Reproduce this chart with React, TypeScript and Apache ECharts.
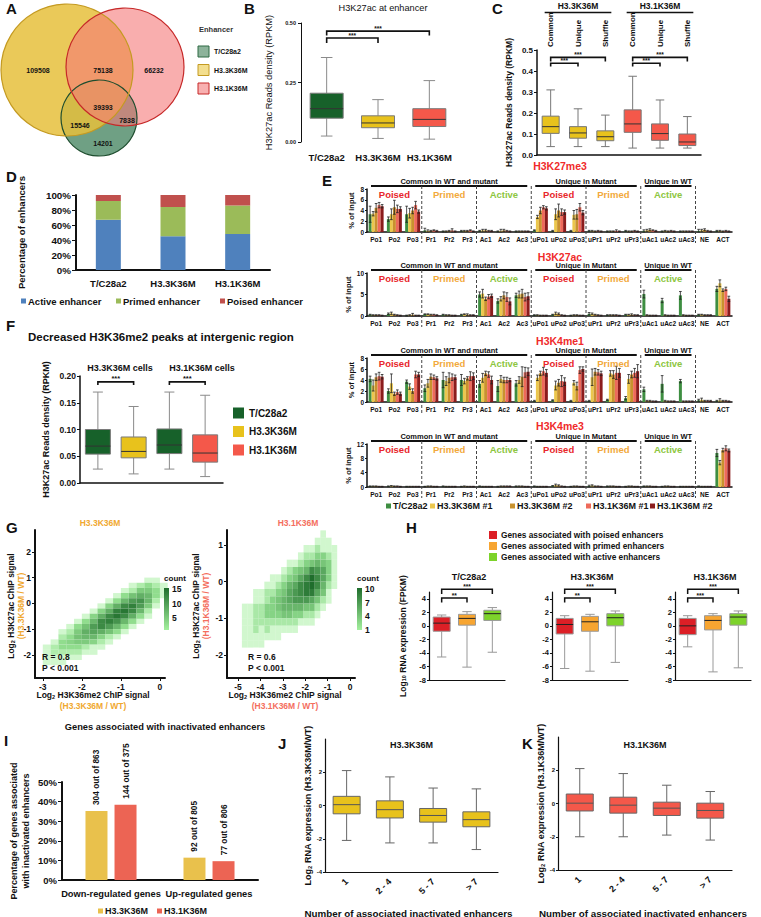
import React, { useEffect, useRef } from "react";
import * as echarts from "echarts";

const FONT = "'Liberation Sans', Arial, Helvetica, sans-serif";
const W = 761;
const H = 917;

/* ---------------- A: Venn ---------------- */
const vennLegend = ["T/C28a2", "H3.3K36M", "H3.1K36M"];
const vennRegionValues = [109508, 75138, 66232, 39393, 15546, 7838, 14201];

/* ---------------- B ---------------- */
const bCategories = ["T/C28a2", "H3.3K36M", "H3.1K36M"];
const bBoxes = [
  [0.025, 0.1, 0.14, 0.205, 0.355],
  [0.015, 0.06, 0.08, 0.11, 0.178],
  [0.012, 0.065, 0.095, 0.14, 0.258],
];
const bBrackets = [
  [0, 1, 0.437, 0.416],
  [0, 2, 0.466, 0.448],
];
const bSignif = ["***", "***"];

/* ---------------- C ---------------- */
const cGroups = ["H3.3K36M", "H3.1K36M"];
const cCategories = ["Common", "Unique", "Shuffle", "Common ", "Unique ", "Shuffle "];
const cBoxes = [
  [0.04, 0.103, 0.135, 0.185, 0.31],
  [0.04, 0.08, 0.105, 0.135, 0.22],
  [0.04, 0.068, 0.087, 0.115, 0.19],
  [0.033, 0.108, 0.148, 0.215, 0.375],
  [0.033, 0.07, 0.102, 0.148, 0.262],
  [0.033, 0.045, 0.062, 0.1, 0.183],
];
const cBrackets = [
  [0, 1, 0.437, 0.422],
  [0, 2, 0.465, 0.445],
  [3, 4, 0.437, 0.422],
  [3, 5, 0.465, 0.445],
];
const cSignif = ["***", "***", "***", "***"];

/* ---------------- D ---------------- */
const dCategories = ["T/C28a2", "H3.3K36M", "H3.1K36M"];
const dActive = [67, 45, 48];
const dPrimed = [25, 39, 38];
const dPoised = [8, 16, 14];
const dLegend = ["Active enhancer", "Primed enhancer", "Poised enhancer"];

/* ---------------- E ---------------- */
const eCategories = ["Po1", "Po2", "Po3", "Pr1", "Pr2", "Pr3", "Ac1", "Ac2", "Ac3", "uPo1", "uPo2", "uPo3", "uPr1", "uPr2", "uPr3", "uAc1", "uAc2", "uAc3", "NE", "ACT"];
const eSeriesNames = ["T/C28a2", "H3.3K36M #1", "H3.3K36M #2", "H3.1K36M #1", "H3.1K36M #2"];
const eMarks = ["H3K27me3", "H3K27ac", "H3K4me1", "H3K4me3"];
const eMax = [8, 10, 8, 12];
const eInterval = [2, 5, 2, 4];
const eHeaders = ["Common in WT and mutant", "Unique in Mutant", "Unique in WT"];
const eGroupLabels = ["Poised", "Primed", "Active", "Poised", "Primed", "Active"];
const eH3K27me3 = [
  [3.3, 2.4, 3.3, 0.3, 0.1, 0.2, 0.2, 0.1, 0.1, 0.3, 0.2, 0.2, 0.2, 0.1, 0.2, 0.2, 0.1, 0.1, 0.2, 0.2],
  [3.4, 3.3, 3.5, 0.2, 0.1, 0.2, 0.3, 0.2, 0.1, 2.8, 3.3, 3.2, 0.2, 0.1, 0.1, 0.3, 0.2, 0.1, 0.3, 0.2],
  [4.5, 4.6, 4.0, 0.2, 0.2, 0.2, 0.3, 0.3, 0.1, 4.0, 4.0, 3.3, 0.1, 0.1, 0.1, 0.4, 0.1, 0.1, 0.4, 0.1],
  [5.0, 4.3, 5.0, 0.3, 0.3, 0.3, 0.2, 0.2, 0.1, 4.6, 3.7, 4.6, 0.2, 0.2, 0.2, 0.3, 0.2, 0.1, 0.2, 0.2],
  [4.8, 4.3, 3.8, 0.2, 0.1, 0.1, 0.2, 0.1, 0.1, 4.4, 3.7, 3.6, 0.1, 0.1, 0.1, 0.2, 0.1, 0.1, 0.1, 0.1],
];
const eH3K27ac = [
  [0.3, 0.5, 0.1, 0.4, 0.3, 0.3, 5.0, 3.5, 4.8, 0.2, 0.3, 0.1, 0.5, 0.2, 0.3, 5.1, 3.6, 4.8, 0.3, 6.3],
  [0.2, 0.6, 0.2, 0.4, 0.2, 0.4, 5.2, 4.0, 5.0, 0.2, 0.6, 0.2, 0.5, 0.2, 0.3, 0.2, 0.2, 0.2, 0.3, 7.6],
  [0.2, 0.3, 0.3, 0.3, 0.2, 0.3, 4.0, 4.8, 5.2, 0.1, 0.5, 0.2, 0.3, 0.2, 0.3, 0.1, 0.1, 0.1, 0.2, 6.0],
  [0.2, 0.2, 0.1, 0.3, 0.1, 0.2, 4.5, 4.4, 4.4, 0.1, 0.2, 0.1, 0.2, 0.2, 0.2, 0.1, 0.1, 0.1, 0.2, 6.3],
  [0.1, 0.1, 0.1, 0.2, 0.1, 0.2, 4.7, 3.4, 4.6, 0.1, 0.1, 0.1, 0.1, 0.1, 0.2, 0.1, 0.1, 0.1, 0.2, 4.0],
];
const eH3K4me1 = [
  [4.2, 2.0, 3.7, 2.5, 4.0, 4.0, 3.3, 2.9, 3.4, 0.2, 0.3, 0.2, 0.2, 0.4, 0.7, 2.3, 3.3, 3.8, 0.3, 0.2],
  [3.0, 3.4, 2.8, 3.4, 3.8, 3.8, 4.4, 4.2, 4.0, 4.4, 3.0, 3.5, 4.5, 5.2, 4.2, 0.2, 0.2, 0.1, 0.4, 0.3],
  [4.5, 1.5, 2.0, 4.6, 4.4, 4.3, 5.2, 4.0, 4.6, 5.2, 3.5, 2.9, 5.5, 5.0, 5.0, 0.2, 0.1, 0.1, 0.2, 0.2],
  [4.7, 1.8, 5.0, 4.5, 4.5, 4.7, 5.0, 4.0, 5.4, 5.6, 3.8, 5.8, 5.4, 5.3, 5.3, 0.1, 0.1, 0.1, 0.2, 0.2],
  [4.6, 1.5, 5.0, 4.3, 4.5, 4.7, 4.0, 4.0, 5.5, 5.3, 3.7, 6.0, 5.2, 5.3, 5.6, 0.1, 0.1, 0.1, 0.2, 0.1],
];
const eH3K4me3 = [
  [0.2, 0.2, 0.1, 0.1, 0.2, 0.1, 0.2, 0.1, 0.2, 0.2, 0.3, 0.1, 0.3, 0.2, 0.1, 0.2, 0.1, 0.1, 0.2, 9.5],
  [0.2, 0.3, 0.1, 0.2, 0.1, 0.2, 0.1, 0.2, 0.2, 0.1, 0.5, 0.2, 0.4, 0.2, 0.2, 0.2, 0.2, 0.1, 0.1, 6.8],
  [0.2, 0.2, 0.1, 0.2, 0.1, 0.1, 0.1, 0.2, 0.2, 0.1, 0.4, 0.2, 0.2, 0.2, 0.2, 0.2, 0.2, 0.1, 0.1, 10.3],
  [0.1, 0.2, 0.1, 0.1, 0.1, 0.1, 0.1, 0.2, 0.1, 0.1, 0.2, 0.1, 0.2, 0.1, 0.1, 0.1, 0.1, 0.1, 0.1, 10.8],
  [0.1, 0.1, 0.1, 0.1, 0.1, 0.1, 0.1, 0.2, 0.1, 0.1, 0.1, 0.1, 0.1, 0.1, 0.1, 0.1, 0.1, 0.1, 0.1, 10.2],
];
const eValues = [eH3K27me3, eH3K27ac, eH3K4me1, eH3K4me3];
// error bar half-lengths (same layout as the value arrays)
const eErrH3K27me3 = [
  [1.5, 0.4, 1.5, 0.4, 0.1, 0.1, 0.1, 0.1, 0.1, 0.1, 0.1, 0.1, 0.1, 0.1, 0.1, 0.2, 0.1, 0.1, 0.3, 0.1],
  [0.4, 1.0, 0.9, 0.2, 0.1, 0.1, 0.2, 0.3, 0.1, 0.3, 1.0, 0.8, 0.1, 0.1, 0.1, 0.2, 0.1, 0.1, 0.2, 0.1],
  [0.8, 1.3, 0.6, 0.1, 0.1, 0.1, 0.2, 0.2, 0.1, 0.6, 1.2, 0.9, 0.1, 0.1, 0.1, 0.2, 0.1, 0.1, 0.2, 0.1],
  [0.5, 0.7, 0.7, 0.1, 0.3, 0.1, 0.1, 0.1, 0.1, 0.3, 0.6, 0.7, 0.1, 0.2, 0.1, 0.1, 0.1, 0.1, 0.1, 0.1],
  [0.3, 0.4, 0.3, 0.1, 0.1, 0.1, 0.1, 0.1, 0.1, 0.3, 0.4, 0.4, 0.1, 0.1, 0.1, 0.1, 0.1, 0.1, 0.1, 0.1],
];
const eErrH3K27ac = [
  [0.1, 0.2, 0.1, 0.1, 0.1, 0.1, 0.6, 0.5, 0.5, 0.1, 0.1, 0.1, 0.3, 0.1, 0.1, 0.9, 0.5, 0.9, 0.1, 0.6],
  [0.1, 0.3, 0.1, 0.1, 0.1, 0.1, 1.0, 0.5, 0.8, 0.1, 0.3, 0.1, 0.2, 0.1, 0.1, 0.1, 0.1, 0.1, 0.1, 0.8],
  [0.1, 0.1, 0.3, 0.1, 0.1, 0.2, 0.4, 0.8, 1.0, 0.1, 0.2, 0.1, 0.1, 0.1, 0.2, 0.1, 0.1, 0.1, 0.1, 0.3],
  [0.1, 0.1, 0.1, 0.1, 0.1, 0.1, 0.5, 1.0, 0.9, 0.1, 0.1, 0.1, 0.1, 0.1, 0.1, 0.1, 0.1, 0.1, 0.1, 0.4],
  [0.1, 0.1, 0.1, 0.1, 0.1, 0.1, 0.4, 0.8, 0.8, 0.1, 0.1, 0.1, 0.1, 0.1, 0.1, 0.1, 0.1, 0.1, 0.1, 0.6],
];
const eErrH3K4me1 = [
  [0.5, 0.4, 0.3, 0.6, 1.4, 1.0, 0.6, 1.0, 0.5, 0.1, 0.1, 0.1, 0.1, 0.1, 0.3, 0.4, 1.5, 0.3, 0.2, 0.1],
  [1.0, 1.7, 0.5, 0.7, 0.8, 0.5, 0.8, 0.6, 0.6, 0.5, 0.8, 0.4, 1.5, 0.5, 0.8, 0.1, 0.1, 0.1, 0.3, 0.3],
  [0.6, 0.3, 0.4, 0.5, 0.9, 0.3, 0.4, 0.5, 1.8, 0.4, 0.6, 0.7, 0.6, 0.7, 0.6, 0.1, 0.1, 0.1, 0.1, 0.1],
  [0.7, 0.4, 0.6, 0.4, 0.6, 0.8, 0.5, 0.5, 0.9, 0.7, 1.0, 0.6, 0.5, 1.2, 0.8, 0.1, 0.1, 0.1, 0.1, 0.1],
  [0.4, 0.3, 0.4, 0.3, 0.4, 0.6, 0.7, 0.3, 0.7, 0.6, 0.7, 0.4, 0.4, 0.8, 1.2, 0.1, 0.1, 0.1, 0.1, 0.1],
];
const eErrH3K4me3 = [
  [0.1, 0.1, 0.1, 0.1, 0.1, 0.1, 0.1, 0.1, 0.1, 0.1, 0.1, 0.1, 0.2, 0.1, 0.1, 0.1, 0.1, 0.1, 0.1, 1.0],
  [0.1, 0.1, 0.1, 0.1, 0.1, 0.1, 0.1, 0.1, 0.1, 0.1, 0.3, 0.1, 0.2, 0.1, 0.1, 0.1, 0.1, 0.1, 0.1, 0.6],
  [0.1, 0.1, 0.1, 0.1, 0.1, 0.1, 0.1, 0.1, 0.1, 0.1, 0.2, 0.1, 0.1, 0.1, 0.1, 0.1, 0.1, 0.1, 0.1, 0.5],
  [0.1, 0.1, 0.1, 0.1, 0.1, 0.1, 0.1, 0.1, 0.1, 0.1, 0.1, 0.1, 0.1, 0.1, 0.1, 0.1, 0.1, 0.1, 0.1, 0.7],
  [0.1, 0.1, 0.1, 0.1, 0.1, 0.1, 0.1, 0.1, 0.1, 0.1, 0.1, 0.1, 0.1, 0.1, 0.1, 0.1, 0.1, 0.1, 0.1, 0.4],
];
const eErrors = [eErrH3K27me3, eErrH3K27ac, eErrH3K4me1, eErrH3K4me3];

/* ---------------- F ---------------- */
const fGroups = ["H3.3K36M cells", "H3.1K36M cells"];
const fCategories = ["T/C28a2 (H3.3K36M cells)", "H3.3K36M", "T/C28a2 (H3.1K36M cells)", "H3.1K36M"];
const fBoxes = [
  [0.026, 0.054, 0.069, 0.1, 0.17],
  [0.017, 0.047, 0.059, 0.086, 0.143],
  [0.026, 0.055, 0.071, 0.101, 0.17],
  [0.012, 0.039, 0.056, 0.09, 0.164],
];
const fBrackets = [
  [0, 1, 0.189, 0.183],
  [2, 3, 0.189, 0.183],
];
const fSignif = ["***", "***"];
const fLegend = ["T/C28a2", "H3.3K36M", "H3.1K36M"];

/* ---------------- G ---------------- */
const gTitles = ["H3.3K36M", "H3.1K36M"];
const gStats = [["R = 0.8", "P < 0.001"], ["R = 0.6", "P < 0.001"]];
const g1ColorTicks = [15, 10, 5];
const g2ColorTicks = [10, 7, 4, 1];
// binned point counts; rows from y=0.9 downward (step 0.2), columns from x=-2.9 (step 0.2)
const g1Bins = [
  [0, 0, 0, 0, 0, 0, 0, 0, 0, 0, 0, 0, 0, 1, 1, 0],
  [0, 0, 0, 0, 0, 0, 0, 0, 0, 0, 0, 1, 2, 3, 2, 1],
  [0, 0, 0, 0, 0, 0, 0, 0, 0, 0, 1, 2, 5, 5, 3, 1],
  [0, 0, 0, 0, 0, 0, 0, 0, 0, 1, 3, 6, 8, 7, 3, 1],
  [0, 0, 0, 0, 0, 0, 0, 0, 1, 3, 7, 10, 11, 7, 2, 0],
  [0, 0, 0, 0, 0, 0, 0, 1, 4, 8, 12, 13, 10, 5, 1, 0],
  [0, 0, 0, 0, 0, 0, 1, 4, 8, 13, 14, 12, 7, 2, 0, 0],
  [0, 0, 0, 0, 0, 1, 4, 8, 12, 14, 12, 8, 3, 1, 0, 0],
  [0, 0, 0, 0, 1, 3, 7, 12, 13, 11, 7, 3, 1, 0, 0, 0],
  [0, 0, 0, 1, 3, 6, 10, 12, 10, 7, 3, 1, 0, 0, 0, 0],
  [0, 0, 1, 2, 5, 8, 9, 8, 6, 3, 1, 0, 0, 0, 0, 0],
  [0, 0, 2, 3, 6, 7, 7, 4, 2, 1, 0, 0, 0, 0, 0, 0],
  [0, 1, 3, 4, 5, 5, 4, 2, 1, 0, 0, 0, 0, 0, 0, 0],
  [1, 2, 3, 3, 3, 2, 1, 1, 0, 0, 0, 0, 0, 0, 0, 0],
  [1, 2, 2, 2, 2, 1, 1, 0, 0, 0, 0, 0, 0, 0, 0, 0],
  [1, 1, 1, 1, 1, 0, 0, 0, 0, 0, 0, 0, 0, 0, 0, 0],
  [1, 1, 1, 0, 0, 0, 0, 0, 0, 0, 0, 0, 0, 0, 0, 0],
];
const g1BinOrigin = [-2.9, 0.9, 0.2, 0.2];
// rows from y=1.3 downward (step 0.2), columns from x=-4.7 (step 0.25)
const g2Bins = [
  [0, 0, 0, 0, 0, 0, 0, 0, 0, 0, 0, 0, 0, 0, 1, 0, 0],
  [0, 0, 0, 0, 0, 0, 0, 0, 0, 0, 0, 0, 0, 1, 1, 1, 0],
  [0, 0, 0, 0, 0, 0, 0, 0, 0, 0, 0, 1, 1, 2, 1, 1, 1],
  [0, 0, 0, 0, 0, 0, 0, 0, 0, 0, 1, 2, 2, 3, 3, 2, 1],
  [0, 0, 0, 0, 0, 0, 0, 0, 1, 1, 2, 3, 4, 5, 4, 3, 1],
  [0, 0, 0, 0, 0, 0, 0, 1, 2, 3, 4, 5, 8, 7, 6, 3, 1],
  [0, 0, 0, 0, 0, 1, 1, 2, 3, 4, 6, 8, 10, 8, 6, 3, 1],
  [0, 0, 0, 0, 1, 1, 2, 3, 5, 6, 8, 9, 10, 8, 5, 2, 1],
  [0, 0, 1, 1, 2, 2, 3, 4, 6, 7, 8, 9, 9, 6, 4, 1, 0],
  [0, 0, 1, 1, 2, 3, 4, 5, 6, 7, 7, 7, 6, 4, 2, 1, 0],
  [1, 1, 2, 2, 3, 3, 4, 5, 5, 5, 5, 4, 4, 2, 1, 0, 0],
  [1, 1, 2, 2, 3, 3, 3, 4, 4, 3, 3, 2, 2, 1, 0, 0, 0],
  [1, 1, 2, 2, 2, 2, 2, 2, 2, 2, 1, 1, 1, 0, 0, 0, 0],
  [1, 1, 2, 1, 2, 1, 1, 1, 1, 1, 0, 0, 0, 0, 0, 0, 0],
  [1, 1, 1, 1, 1, 1, 1, 0, 0, 0, 0, 0, 0, 0, 0, 0, 0],
  [1, 1, 1, 1, 0, 0, 0, 0, 0, 0, 0, 0, 0, 0, 0, 0, 0],
];
const g2BinOrigin = [-4.7, 1.3, 0.25, 0.2];

/* ---------------- H ---------------- */
const hTitles = ["T/C28a2", "H3.3K36M", "H3.1K36M"];
const hCategories = ["Poised", "Primed", "Active"];
const hBoxes = [
  [[-4.6, -0.8, 0.4, 1.3, 1.6], [-6.1, 0.1, 1.1, 1.7, 2.1], [-3.9, 0.8, 1.8, 2.3, 2.7]],
  [[-6.3, -1.2, 0.2, 1.1, 1.5], [-6.7, -0.8, 0.6, 1.4, 1.7], [-5.4, 0.0, 1.2, 1.8, 2.2]],
  [[-3.1, -1.3, 0.0, 1.1, 1.5], [-6.8, -0.6, 0.8, 1.5, 1.8], [-6.2, 0.1, 1.3, 1.8, 2.2]],
];
const hBrackets = [
  [0, 1, 4.1, 3.45],
  [0, 2, 5.4, 4.7],
];
const hSignif = [["**", "***"], ["**", "***"], ["***", "***"]];
const hLegendWords = ["poised", "primed", "active"];

/* ---------------- I ---------------- */
const iCategories = ["Down-regulated genes", "Up-regulated genes"];
const iH33 = [35.2, 11.4];
const iH31 = [38.4, 9.6];
const iH33Labels = ["304 out of 863", "92 out of 805"];
const iH31Labels = ["144 out of 375", "77 out of 806"];
const iLegend = ["H3.3K36M", "H3.1K36M"];

/* ---------------- J / K ---------------- */
const jkTitles = ["H3.3K36M", "H3.1K36M"];
const jkCategories = ["1", "2 - 4", "5 - 7", "> 7"];
const jBoxes = [
  [-2.1, -0.5, 0.05, 0.55, 2.1],
  [-2.25, -0.75, -0.25, 0.28, 1.72],
  [-2.25, -1.0, -0.6, -0.18, 1.05],
  [-2.65, -1.28, -0.85, -0.38, 1.0],
];
const kBoxes = [
  [-2.0, -0.45, 0.02, 0.57, 2.1],
  [-2.0, -0.58, -0.1, 0.38, 1.8],
  [-1.9, -0.72, -0.28, 0.08, 1.1],
  [-2.2, -0.88, -0.42, 0.02, 0.72],
];

/* ================= option builder ================= */
function buildOption(): any {
  const grid: any[] = [];
  const xAxis: any[] = [];
  const yAxis: any[] = [];
  const series: any[] = [];
  const graphic: any[] = [];
  const visualMap: any[] = [];

  const ts = (size: number, extra: any = {}) => ({ fontFamily: FONT, fontSize: size, fontWeight: "bold", color: "#111", ...extra });
  const text = (t: string, x: number, y: number, o: any = {}) => {
    graphic.push({
      type: "text", x, y, rotation: o.rot || 0, z: 100, silent: true,
      style: {
        text: t, fontFamily: FONT, fontSize: o.size ?? 10, fontWeight: o.weight ?? "bold",
        fill: o.color ?? "#111", align: o.align ?? "center", verticalAlign: o.va ?? "middle",
        rich: o.rich, lineHeight: o.lineHeight,
      },
    });
  };
  const seg = (x1: number, y1: number, x2: number, y2: number, o: any = {}) => {
    graphic.push({ type: "line", z: 100, silent: true, shape: { x1, y1, x2, y2 }, style: { stroke: o.color ?? "#111", lineWidth: o.w ?? 1, lineDash: o.dash } });
  };
  const sq = (x: number, y: number, w: number, h: number, fill: string, stroke?: string) => {
    graphic.push({ type: "rect", z: 100, silent: true, shape: { x, y, width: w, height: h }, style: { fill, stroke: stroke ?? "none", lineWidth: stroke ? 1 : 0 } });
  };
  const rich = (size: number) => ({
    a: { fontFamily: FONT, fontSize: size, fontWeight: "bold", color: "#111" },
    s: { fontFamily: FONT, fontSize: size * 0.65, fontWeight: "bold", color: "#111", verticalAlign: "bottom" },
  });

  const addGrid = (left: number, top: number, width: number, height: number) => grid.push({ left, top, width, height }) - 1;
  const axLine = (w = 1.5) => ({ show: true, onZero: false, lineStyle: { color: "#111", width: w } });
  const catX = (gi: number, data: string[], o: any = {}) =>
    xAxis.push({
      gridIndex: gi, type: "category", data, position: o.position,
      axisLine: o.line === false ? { show: false } : axLine(o.lw ?? 1.5),
      axisTick: { show: false }, splitLine: { show: false },
      axisLabel: o.label === false ? { show: false } : ts(o.size ?? 9, { margin: o.margin ?? 6, interval: 0, rotate: o.rotate ?? 0 }),
    }) - 1;
  const valY = (gi: number, min: number, max: number, interval: number, o: any = {}) =>
    yAxis.push({
      gridIndex: gi, type: "value", min, max, interval,
      axisLine: axLine(o.lw ?? 1.5),
      axisTick: { show: true, length: o.tick ?? 3, lineStyle: { color: "#111", width: 1 } },
      splitLine: { show: false },
      axisLabel: ts(o.size ?? 8, { margin: o.margin ?? 4, formatter: o.fmt, showMaxLabel: o.showMax ?? true }),
      name: o.name, nameLocation: "middle", nameGap: o.nameGap ?? 25, nameRotate: 90,
      nameTextStyle: ts(o.nameSize ?? 9, { fontWeight: o.nameWeight ?? "bold", rich: o.rich, lineHeight: o.lineHeight }),
    }) - 1;
  // box-and-whisker drawn through the axes' scales: [min, q1, median, q3, max]
  const boxplot = (xi: number, yi: number, data: number[][], colors: string[], bw: number, o: any = {}) =>
    series.push({
      type: "custom", xAxisIndex: xi, yAxisIndex: yi, silent: true, z: 3,
      data: data.map((d, i) => [i, ...d]),
      encode: { x: 0, y: [1, 2, 3, 4, 5] },
      renderItem: (params: any, api: any) => {
        const i = api.value(0);
        const x = api.coord([i, 0])[0];
        const ys = [1, 2, 3, 4, 5].map((k) => api.coord([i, api.value(k)])[1]);
        const half = bw / 2, cap = (bw * (o.cap ?? 0.4)) / 2;
        const wc = o.whisker ?? "#8a8a8a", bc = o.border ?? "#7a7a7a", mc = o.median ?? "#333";
        return {
          type: "group",
          children: [
            { type: "line", shape: { x1: x, y1: ys[0], x2: x, y2: ys[1] }, style: { stroke: wc, lineWidth: 1 } },
            { type: "line", shape: { x1: x, y1: ys[3], x2: x, y2: ys[4] }, style: { stroke: wc, lineWidth: 1 } },
            { type: "line", shape: { x1: x - cap, y1: ys[0], x2: x + cap, y2: ys[0] }, style: { stroke: wc, lineWidth: 1 } },
            { type: "line", shape: { x1: x - cap, y1: ys[4], x2: x + cap, y2: ys[4] }, style: { stroke: wc, lineWidth: 1 } },
            { type: "rect", shape: { x: x - half, y: ys[3], width: bw, height: ys[1] - ys[3] }, style: { fill: colors[params.dataIndex], stroke: bc, lineWidth: 1 } },
            { type: "line", shape: { x1: x - half, y1: ys[2], x2: x + half, y2: ys[2] }, style: { stroke: mc, lineWidth: 1 } },
          ],
        };
      },
    });
  const brackets = (xi: number, yi: number, items: number[][], labels: string[], o: any = {}) =>
    series.push({
      type: "custom", xAxisIndex: xi, yAxisIndex: yi, data: items, silent: true, z: 20,
      encode: { x: [0, 1], y: [2, 3] },
      renderItem: (params: any, api: any) => {
        const a = api.value(0), b = api.value(1), y = api.value(2), y2 = api.value(3);
        const p1 = api.coord([a, y2]), p2 = api.coord([a, y]), p3 = api.coord([b, y]), p4 = api.coord([b, y2]);
        return {
          type: "group",
          children: [
            { type: "polyline", shape: { points: [p1, p2, p3, p4] }, style: { stroke: "#111", lineWidth: o.lw ?? 1.6, fill: "none" } },
            { type: "text", x: (p2[0] + p3[0]) / 2, y: p2[1] + 1, style: { text: labels[params.dataIndex], fontFamily: FONT, fontSize: o.size ?? 7, fontWeight: "bold", fill: "#111", align: "center", verticalAlign: "bottom" } },
          ],
        };
      },
    });

  const letter = (t: string, x: number, y: number) => text(t, x, y, { size: 15, align: "left" });

  /* ---------- A ---------- */
  letter("A", 6, 8);
  const circles = [
    { cx: 99, cy: 118, r: 38, fill: "rgba(50,120,80,0.7)", stroke: "#1E4D2E" },
    { cx: 67, cy: 70, r: 66, fill: "rgba(230,192,60,0.85)", stroke: "#C49A22" },
    { cx: 125, cy: 67, r: 59, fill: "rgba(245,120,120,0.6)", stroke: "#C62828" },
  ];
  circles.forEach((c) => graphic.push({ type: "circle", z: 90, silent: true, shape: { cx: c.cx, cy: c.cy, r: c.r }, style: { fill: c.fill, stroke: "none" } }));
  circles.forEach((c) => graphic.push({ type: "circle", z: 91, silent: true, shape: { cx: c.cx, cy: c.cy, r: c.r }, style: { fill: "none", stroke: c.stroke, lineWidth: 1.2 } }));
  const vennPos = [[38, 70], [103, 70], [154, 70], [103, 107], [80, 125], [127, 120], [103, 143]];
  vennRegionValues.forEach((v, i) => text(String(v), vennPos[i][0], vennPos[i][1], { size: 7 }));
  text("Enhancer", 199, 29, { size: 7.5, align: "left", color: "#333" });
  const vennLegFill = ["#8DB39B", "#F3DE8E", "#F8B0B0"];
  const vennLegStroke = ["#2E6B45", "#C49A22", "#C62828"];
  vennLegend.forEach((n, i) => {
    sq(198, 46 + i * 18.5, 11, 11, vennLegFill[i], vennLegStroke[i]);
    text(n, 214, 51.5 + i * 18.5, { size: 7, align: "left" });
  });

  /* ---------- B ---------- */
  letter("B", 244, 8);
  text("H3K27ac at enhancer", 383, 8, { size: 9.2, weight: "normal" });
  {
    const gi = addGrid(301, 23, 154, 119);
    const xi = catX(gi, bCategories, { line: false, size: 9.5, margin: 10 });
    const yi = valY(gi, 0, 0.5, 0.25, { size: 5.5, margin: 5, fmt: (v: number) => v.toFixed(2), lw: 1, name: "H3K27ac Reads density (RPKM)", nameGap: 28, nameSize: 9.3, nameWeight: "normal" });
    boxplot(xi, yi, bBoxes, ["#17612A", "#E8C21C", "#F4584A"], 33, { cap: 0.35 });
    brackets(xi, yi, bBrackets, bSignif, { size: 6.5 });
  }

  /* ---------- C ---------- */
  letter("C", 492, 8);
  {
    const gi = addGrid(537, 50, 164, 105);
    const xi = catX(gi, cCategories, { label: false, lw: 1.5 });
    catX(gi, cCategories, { position: "top", line: false, size: 8, rotate: 90, margin: 3 });
    const yi = valY(gi, 0, 0.5, 0.1, { size: 8, margin: 4, fmt: (v: number) => v.toFixed(1), lw: 1.5, name: "H3K27ac Reads density (RPKM)", nameGap: 24, nameSize: 8.5 });
    boxplot(xi, yi, cBoxes, ["#E8C21C", "#E8C21C", "#E8C21C", "#F4584A", "#F4584A", "#F4584A"], 17, { cap: 0.5, whisker: "#777", border: "#777" });
    brackets(xi, yi, cBrackets, cSignif, { size: 6.5 });
    const band = 164 / 6;
    cGroups.forEach((g, k) => {
      const x1 = 537 + (k * 3 + 0.5) * band - 6, x2 = 537 + (k * 3 + 2.5) * band + 6;
      seg(x1, 12.5, x2, 12.5, { w: 1.5 });
      text(g, (x1 + x2) / 2, 6, { size: 8.5 });
    });
  }

  /* ---------- D ---------- */
  letter("D", 6, 176);
  {
    const gi = addGrid(76, 195, 194, 75);
    const xi = catX(gi, dCategories, { size: 9.5, margin: 8, lw: 2 });
    const yi = valY(gi, 0, 100, 20, { size: 9.8, margin: 5, fmt: "{value}%", lw: 2, tick: 4, name: "Percentage of enhancers", nameGap: 50, nameSize: 9.5 });
    const dColors = ["#4F81BD", "#9BBB59", "#C0504D"];
    [dActive, dPrimed, dPoised].forEach((d, k) => series.push({ type: "bar", name: dLegend[k], stack: "d", xAxisIndex: xi, yAxisIndex: yi, data: d, barWidth: 25, silent: true, itemStyle: { color: dColors[k] } }));
    const lx = [21, 116, 220];
    dLegend.forEach((n, k) => {
      sq(lx[k], 298.5, 5, 5, dColors[k]);
      text(n, lx[k] + 7, 301, { size: 9.5, align: "left" });
    });
  }

  /* ---------- E ---------- */
  letter("E", 322, 180);
  {
    const eLeft = 367, eWidth = 365;
    const eTops = [189, 273, 358, 444];
    const eHeights = [43, 43, 44, 43];
    const eTitleY = [166, 257, 341, 426];
    const eColors = ["#3E8E41", "#EBC74D", "#C8922E", "#EE6A5A", "#8B1C1C"];
    const eGroupColors = ["#E8262B", "#F2A93B", "#8DC641", "#E8262B", "#F2A93B", "#8DC641"];
    const spans = [[0, 9], [9, 15], [15, 18]];
    const band = eWidth / eCategories.length;
    const gapFrac = 0.18;
    eMarks.forEach((mark, r) => {
      const gi = addGrid(eLeft, eTops[r], eWidth, eHeights[r]);
      const xi = catX(gi, eCategories, { size: 6.5, margin: 4, lw: 1.5 });
      const yi = valY(gi, 0, eMax[r], eInterval[r], { size: 6.5, margin: 3, tick: 2, name: "% of input", nameGap: 12, nameSize: 7.5 });
      eValues[r].forEach((vals, s) =>
        series.push({ type: "bar", name: eSeriesNames[s], xAxisIndex: xi, yAxisIndex: yi, data: vals, barGap: "0%", barCategoryGap: gapFrac * 100 + "%", silent: true, itemStyle: { color: eColors[s] } })
      );
      const errData: number[][] = [];
      eValues[r].forEach((vals, s) => vals.forEach((v, c) => errData.push([c, v, eErrors[r][s][c], s])));
      series.push({
        type: "custom", xAxisIndex: xi, yAxisIndex: yi, data: errData, silent: true, z: 5, encode: { x: 0, y: 1 },
        renderItem: (params: any, api: any) => {
          const c = api.value(0), v = api.value(1), e = api.value(2), s = api.value(3);
          const bw = (api.size([1, 0])[0] * (1 - gapFrac)) / 5;
          const base = api.coord([c, v]);
          const x = base[0] + (s - 2) * bw;
          const yTop = api.coord([c, v + e])[1];
          const yBot = api.coord([c, Math.max(0, v - e)])[1];
          const cap = bw * 0.45;
          return {
            type: "group",
            children: [
              { type: "line", shape: { x1: x, y1: yTop, x2: x, y2: yBot }, style: { stroke: "#222", lineWidth: 0.8 } },
              { type: "line", shape: { x1: x - cap, y1: yTop, x2: x + cap, y2: yTop }, style: { stroke: "#222", lineWidth: 0.8 } },
              { type: "line", shape: { x1: x - cap, y1: yBot, x2: x + cap, y2: yBot }, style: { stroke: "#222", lineWidth: 0.8 } },
            ],
          };
        },
      });
      const top = eTops[r], bottom = top + eHeights[r];
      text(mark, 560, eTitleY[r], { size: 10.5, color: "#F02B2B" });
      const lineY = top - 3;
      spans.forEach(([a, b], h) => {
        const x1 = eLeft + a * band + 4, x2 = eLeft + b * band - 4;
        seg(x1, lineY, x2, lineY, { w: 2 });
        text(eHeaders[h], (x1 + x2) / 2, lineY - 4.5, { size: 7.5 });
      });
      [3, 6, 9, 12, 15, 18].forEach((k) => seg(eLeft + k * band, lineY, eLeft + k * band, bottom + 11, { dash: [3, 2], color: "#444" }));
      eGroupLabels.forEach((g, j) => text(g, eLeft + (j * 3 + 1.5) * band, top + 5, { size: 9.5, color: eGroupColors[j] }));
    });
    const lx = [386, 430, 510, 586, 650];
    eSeriesNames.forEach((n, k) => {
      sq(lx[k], 503.5, 5, 5, eColors[k]);
      text(n, lx[k] + 7, 506, { size: 9, align: "left" });
    });
  }

  /* ---------- F ---------- */
  letter("F", 6, 325);
  text("Decreased H3K36me2 peaks at intergenic region", 28, 337, { size: 11.5, align: "left" });
  {
    const gi = addGrid(80, 376, 143, 107);
    const xi = catX(gi, fCategories, { label: false, lw: 1.5 });
    const yi = valY(gi, 0, 0.2, 0.05, { size: 8.5, margin: 4, fmt: (v: number) => v.toFixed(2), lw: 1.5, name: "H3K27ac Reads density (RPKM)", nameGap: 30, nameSize: 9 });
    boxplot(xi, yi, fBoxes, ["#17612A", "#E8C21C", "#17612A", "#F4584A"], 25, { cap: 0.4 });
    brackets(xi, yi, fBrackets, fSignif, { size: 7.5 });
    text(fGroups[0], 120, 368, { size: 9 });
    text(fGroups[1], 202, 368, { size: 9 });
    const fc = ["#17612A", "#E8C21C", "#F4584A"];
    fLegend.forEach((n, k) => {
      sq(233, 407.5 + k * 18.5, 11, 11, fc[k]);
      text(n, 249, 413 + k * 18.5, { size: 10, align: "left" });
    });
  }

  /* ---------- G ---------- */
  letter("G", 6, 527);
  {
    const gColorsTitle = ["#F0A830", "#F46E5E"];
    const defs = [
      { left: 35, width: 130, xmin: -3.2, xmax: 0.13, xs: 4, ymin: -2.9, ymax: 2.85, ys: 5, bins: g1Bins, org: g1BinOrigin, cmax: 15, statX: 42, yl: 11 },
      { left: 227, width: 128, xmin: -5.49, xmax: 0.22, xs: 6, ymin: -2.63, ymax: 1.41, ys: 4, bins: g2Bins, org: g2BinOrigin, cmax: 10, statX: 248, yl: 196 },
    ];
    const gTitleX = [100, 298];
    const gXNameX = [93, 285];
    defs.forEach((d, k) => {
      const gi = addGrid(d.left, 530, d.width, 148);
      const xi = xAxis.push({
        gridIndex: gi, type: "value", min: d.xmin, max: d.xmax, splitNumber: d.xs,
        axisLine: axLine(2), axisTick: { show: true, length: 3, lineStyle: { color: "#111" } }, splitLine: { show: false },
        axisLabel: ts(8.5, { margin: 4, showMinLabel: false, showMaxLabel: false }),
      }) - 1;
      const yi = yAxis.push({
        gridIndex: gi, type: "value", min: d.ymin, max: d.ymax, splitNumber: d.ys,
        axisLine: axLine(2), axisTick: { show: true, length: 3, lineStyle: { color: "#111" } }, splitLine: { show: false },
        axisLabel: ts(8.5, { margin: 4, showMinLabel: false, showMaxLabel: false }),
      }) - 1;
      const [x0, y0, dx, dy] = d.org;
      const data: number[][] = [];
      d.bins.forEach((row, i) => row.forEach((c, j) => { if (c > 0) data.push([x0 + j * dx, y0 - i * dy, c]); }));
      const si = series.push({
        type: "custom", xAxisIndex: xi, yAxisIndex: yi, data, silent: true, encode: { x: 0, y: 1 },
        renderItem: (params: any, api: any) => {
          const x = api.value(0), y = api.value(1), c = api.value(2);
          const p0 = api.coord([x - dx / 2, y + dy / 2]);
          const p1 = api.coord([x + dx / 2, y - dy / 2]);
          return { type: "rect", shape: { x: p0[0], y: p0[1], width: p1[0] - p0[0], height: p1[1] - p0[1] }, style: { fill: api.visual("color"), opacity: c <= 1 ? 0.5 : c <= 2 ? 0.8 : 1 } };
        },
      }) - 1;
      visualMap.push({ type: "continuous", show: false, seriesIndex: si, dimension: 2, min: 1, max: d.cmax, inRange: { color: ["#A4F09E", "#1F6E2C"] } });
      text(gTitles[k], gTitleX[k], 523, { size: 8.5, color: gColorsTitle[k] });
      text(gStats[k][0], d.statX, 657, { size: 8.5, align: "left" });
      text(gStats[k][1], d.statX, 668, { size: 8.5, align: "left" });
      text("{a|Log}{s|2}{a| H3K36me2 ChIP signal}", gXNameX[k], 695, { rich: rich(8.5) });
      text("(" + gTitles[k] + " / WT)", gXNameX[k], 706, { size: 8.5, color: gColorsTitle[k] });
      text("{a|Log}{s|2}{a| H3K27ac ChIP signal}", d.yl, 606, { rich: rich(8.5), rot: Math.PI / 2 });
      text("(" + gTitles[k] + " / WT)", d.yl + 10, 606, { size: 8.5, color: gColorsTitle[k], rot: Math.PI / 2 });
    });
    const bars = [
      { x: 164, ticks: g1ColorTicks, cmax: 15 },
      { x: 357, ticks: g2ColorTicks, cmax: 10 },
    ];
    bars.forEach((b) => {
      graphic.push({
        type: "rect", z: 100, silent: true, shape: { x: b.x, y: 588, width: 5, height: 42 },
        style: { fill: { type: "linear", x: 0, y: 0, x2: 0, y2: 1, colorStops: [{ offset: 0, color: "#1F6E2C" }, { offset: 1, color: "#A4F09E" }] } },
      });
      text("count", b.x + 11, 578, { size: 8 });
      b.ticks.forEach((t) => text(String(t), b.x + 8, 589 + ((b.cmax - t) / (b.cmax - 1)) * 41, { size: 8.5, align: "left" }));
    });
  }

  /* ---------- H ---------- */
  letter("H", 406, 527);
  {
    const hColors = ["#DC1F26", "#F7A531", "#7DD32B"];
    const hWordColors = ["#E8262B", "#F7A531", "#8DC641"];
    hLegendWords.forEach((w, k) => {
      sq(489, 531 + k * 11, 8, 8, hColors[k]);
      text("{a|Genes associated with }{c|" + w + "}{a| enhancers}", 501, 535 + k * 11, {
        align: "left",
        rich: { a: { fontFamily: FONT, fontSize: 8.3, fontWeight: "bold", color: "#111" }, c: { fontFamily: FONT, fontSize: 8.3, fontWeight: "bold", color: hWordColors[k] } },
      });
    });
    const hLefts = [429, 552, 675];
    hTitles.forEach((t, k) => {
      const gi = addGrid(hLefts[k], 592, 76, 88);
      const xi = catX(gi, hCategories, { label: false, lw: 1.2 });
      const yi = valY(gi, -8, 5, 2, {
        size: 7.5, margin: 3, showMax: false, lw: 1.2, tick: 2,
        name: k === 0 ? "{a|Log}{s|10}{a| RNA expression (FPKM)}" : "", nameGap: 22, nameSize: 8.5, rich: rich(8.5),
      });
      boxplot(xi, yi, hBoxes[k], hColors, 17, { cap: 0.55, whisker: "#999", border: "#999", median: "#222" });
      brackets(xi, yi, hBrackets, hSignif[k], { size: 6.5, lw: 1.5 });
      text(t, hLefts[k] + 40, 577, { size: 9 });
    });
  }

  /* ---------- I ---------- */
  letter("I", 4, 740);
  text("Genes associated with inactivated enhancers", 165, 727, { size: 9.3 });
  {
    const gi = addGrid(62, 782, 196, 98);
    const xi = catX(gi, iCategories, { size: 9.3, margin: 9, lw: 2 });
    const yi = valY(gi, 0, 50, 10, {
      size: 9.5, margin: 5, fmt: "{value}%", lw: 2, tick: 4,
      name: "Percentage of genes associated\nwith inactivated enhancers", nameGap: 30, nameSize: 9, lineHeight: 12,
    });
    const iColors = ["#E9C14C", "#EC6454"];
    const labelStyle = (labels: string[]) => ({
      show: true, position: "top", rotate: 90, align: "left", verticalAlign: "middle", distance: 6,
      formatter: (p: any) => labels[p.dataIndex], ...ts(8.3),
    });
    series.push({ type: "bar", name: iLegend[0], xAxisIndex: xi, yAxisIndex: yi, data: iH33, barWidth: 22, barGap: "32%", silent: true, itemStyle: { color: iColors[0] }, label: labelStyle(iH33Labels) });
    series.push({ type: "bar", name: iLegend[1], xAxisIndex: xi, yAxisIndex: yi, data: iH31, barWidth: 22, barGap: "32%", silent: true, itemStyle: { color: iColors[1] }, label: labelStyle(iH31Labels) });
    const lx = [98, 157];
    iLegend.forEach((n, k) => {
      sq(lx[k], 908.5, 5, 5, iColors[k]);
      text(n, lx[k] + 7, 911, { size: 9, align: "left" });
    });
  }

  /* ---------- J / K ---------- */
  letter("J", 278, 743);
  letter("K", 522, 743);
  {
    const lefts = [325, 558];
    const tops = [739, 737];
    const widths = [173, 174];
    const boxColors = ["#E8C21C", "#F4584A"];
    [jBoxes, kBoxes].forEach((boxes, k) => {
      const gi = addGrid(lefts[k], tops[k], widths[k], 133);
      const xi = catX(gi, jkCategories, { size: 9, rotate: 45, margin: 8, lw: 1.2 });
      const yi = valY(gi, -4, 4, 2, {
        size: 6, margin: 3, lw: 1.2, tick: 2, showMax: false,
        name: "{a|Log}{s|2}{a| RNA expression (" + jkTitles[k] + "/WT)}", nameGap: 12, rich: rich(9),
      });
      boxplot(xi, yi, boxes, [boxColors[k], boxColors[k], boxColors[k], boxColors[k]], 27, { cap: 0.35, whisker: "#666", border: "#666", median: "#555" });
      text(jkTitles[k], lefts[k] + widths[k] / 2, 745, { size: 9 });
      text("Number of associated inactivated enhancers", lefts[k] + widths[k] / 2 + (k === 0 ? -3 : -2), 913, { size: 9.8 });
    });
  }

  return {
    animation: false,
    backgroundColor: "#ffffff",
    textStyle: { fontFamily: FONT },
    grid, xAxis, yAxis, series, graphic, visualMap,
  };
}

export default function App() {
  const ref = useRef<HTMLDivElement | null>(null);
  useEffect(() => {
    document.body.style.margin = "0";
    const el = ref.current as HTMLDivElement;
    const chart = echarts.init(el, undefined, { renderer: "svg", width: W, height: H });
    chart.setOption(buildOption());
    return () => chart.dispose();
  }, []);
  return <div ref={ref} style={{ width: W, height: H, background: "#fff" }} />;
}
